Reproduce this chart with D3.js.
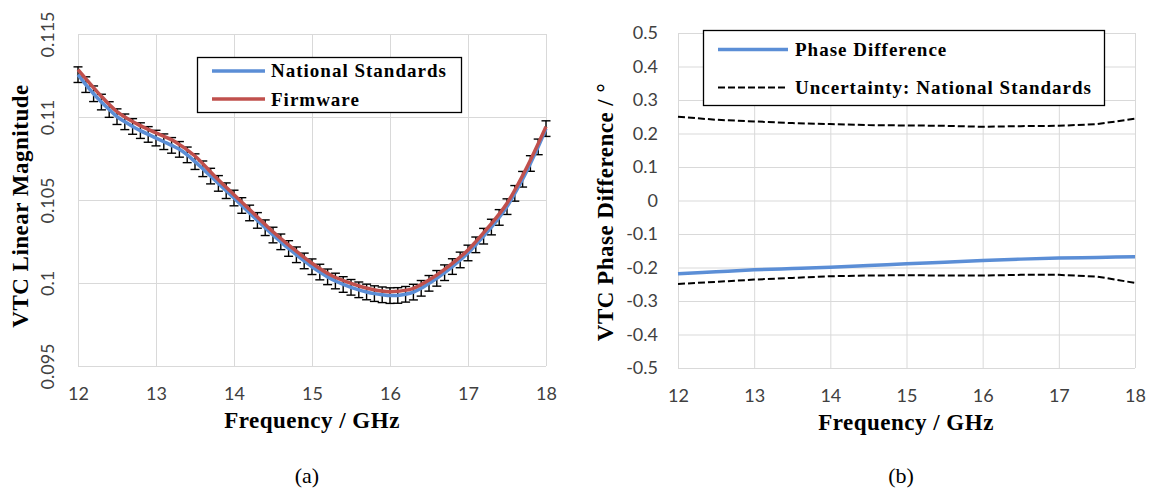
<!DOCTYPE html>
<html><head><meta charset="utf-8">
<script src="https://cdn.jsdelivr.net/npm/d3@7"></script>
<style>
body{margin:0;background:#fff}
svg{display:block}
.tick text{font-family:Lato,"Open Sans",sans-serif;font-size:18px;fill:#404040}
.ttl{font-family:"Liberation Serif","Times New Roman",serif;font-weight:bold;font-size:23px;letter-spacing:0.5px;fill:#000}
.leg{font-family:"Liberation Serif","Times New Roman",serif;font-weight:bold;font-size:19px;letter-spacing:1px;fill:#000}
.cap{font-family:"Liberation Serif","Times New Roman",serif;font-size:22px;fill:#000}
</style>
</head><body>
<svg id="c" width="1153" height="492"></svg>
<script>
// ---------- Panel (a): VTC linear magnitude ----------
const freqStd = d3.range(120, 181).map(d => d / 10); // 12.0 .. 18.0 GHz, 0.1 GHz steps
const nationalStandards = [
  0.11255,0.11195,0.11140,0.11090,0.11045,0.11002,0.10971,0.10943,0.10918,0.10895,
  0.10873,0.10851,0.10829,0.10805,0.10772,0.10731,0.10688,0.10644,0.10600,0.10556,
  0.10512,0.10467,0.10422,0.10377,0.10333,0.10289,0.10248,0.10208,0.10170,0.10133,
  0.10098,0.10066,0.10037,0.10012,0.09991,0.09974,0.09959,0.09946,0.09936,0.09929,
  0.09924,0.09925,0.09932,0.09945,0.09968,0.09998,0.10028,0.10062,0.10099,0.10139,
  0.10181,0.10230,0.10282,0.10337,0.10395,0.10460,0.10540,0.10625,0.10720,0.10820,
  0.10930
];
const nationalStandardsErr = 0.00047;
const freqFw = [12,12.25,12.5,12.75,13,13.25,13.5,13.75,14,14.25,14.5,14.75,15,15.25,15.5,15.75,16,16.25,16.5,16.75,17,17.25,17.5,17.75,18];
const firmware = [
  0.11285,0.11150,0.11032,0.10960,0.10904,0.10850,0.10765,0.10645,0.10532,0.10420,
  0.10309,0.10210,0.10119,0.10045,0.09998,0.09964,0.09948,0.09960,0.10018,0.10100,
  0.10199,0.10330,0.10480,0.10693,0.10942
];
const xTicks = [12,13,14,15,16,17,18];
const yTicksA = [0.095,0.1,0.105,0.11,0.115];

// ---------- Panel (b): VTC phase difference ----------
const freqB = [12,12.5,13,13.5,14,14.5,15,15.5,16,16.5,17,17.5,18];
const phaseDiff = [-0.219,-0.213,-0.207,-0.203,-0.199,-0.194,-0.189,-0.184,-0.179,-0.175,-0.172,-0.170,-0.168];
const uncUpper = [0.250,0.241,0.236,0.231,0.228,0.225,0.224,0.223,0.220,0.222,0.223,0.228,0.244];
const uncLower = [-0.249,-0.243,-0.236,-0.231,-0.226,-0.224,-0.223,-0.224,-0.224,-0.222,-0.222,-0.227,-0.246];
const yTicksB = [-0.5,-0.4,-0.3,-0.2,-0.1,0,0.1,0.2,0.3,0.4,0.5];

const BLUE = "#5B8ED6", RED = "#C0504D", GRID = "#d9d9d9";
const svg = d3.select("#c");

function grid(g, x, y, yt, yFmt, yPad) {
  const [x0, x1] = x.range(), [y0, y1] = y.range();
  const gx = g.append("g").attr("transform", `translate(0,${y0})`)
    .call(d3.axisBottom(x).tickValues(xTicks).tickSize(-(y0 - y1)).tickPadding(21).tickFormat(d3.format("d")));
  const gy = g.append("g").attr("transform", `translate(${x0},0)`)
    .call(d3.axisLeft(y).tickValues(yt).tickSize(-(x1 - x0)).tickPadding(yPad).tickFormat(yFmt));
  [gx, gy].forEach(a => {
    a.select(".domain").remove();
    a.selectAll("line").attr("stroke", GRID).attr("stroke-width", 1);
  });
  gx.selectAll("text").attr("dy", "0.71em");
  return gy;
}

// Panel (a)
const xA = d3.scaleLinear([12, 18], [78, 546]);
const yA = d3.scaleLinear([0.095, 0.115], [366, 34]);
const gA = svg.append("g");
const gyA = grid(gA, xA, yA, yTicksA, d => String(+d.toFixed(3)), 0);
gyA.selectAll("text")
  .attr("x", null).attr("dy", null)
  .attr("text-anchor", "middle").attr("dominant-baseline", "central")
  .attr("transform", "translate(-31,0) rotate(-90)");

const errG = gA.append("g").attr("stroke", "#000").attr("stroke-width", 1.4);
freqStd.forEach((f, i) => {
  const v = nationalStandards[i], cx = xA(f);
  const yt = yA(v + nationalStandardsErr), yb = yA(v - nationalStandardsErr);
  errG.append("line").attr("x1", cx).attr("x2", cx).attr("y1", yt).attr("y2", yb);
  errG.append("line").attr("x1", cx - 4.5).attr("x2", cx + 4.5).attr("y1", yt).attr("y2", yt);
  errG.append("line").attr("x1", cx - 4.5).attr("x2", cx + 4.5).attr("y1", yb).attr("y2", yb);
});
const lineA = d3.line().curve(d3.curveMonotoneX);
gA.append("path").attr("d", lineA(freqStd.map((f, i) => [xA(f), yA(nationalStandards[i])])))
  .attr("fill", "none").attr("stroke", BLUE).attr("stroke-width", 3.5);
gA.append("path").attr("d", lineA(freqFw.map((f, i) => [xA(f), yA(firmware[i])])))
  .attr("fill", "none").attr("stroke", RED).attr("stroke-width", 3.5);

// legend (a)
const lA = gA.append("g");
lA.append("rect").attr("x", 197.5).attr("y", 57.5).attr("width", 264).attr("height", 55)
  .attr("fill", "#fff").attr("stroke", "#000").attr("stroke-width", 1.3);
[["National Standards", BLUE, 71, 77], ["Firmware", RED, 99, 106]].forEach(([t, c, ly, ty]) => {
  lA.append("line").attr("x1", 212).attr("x2", 265).attr("y1", ly).attr("y2", ly).attr("stroke", c).attr("stroke-width", 3.5);
  lA.append("text").attr("class", "leg").attr("x", 271).attr("y", ty).text(t);
});

gA.append("text").attr("class", "ttl").attr("x", 312).attr("y", 428).attr("text-anchor", "middle").text("Frequency / GHz");
gA.append("text").attr("class", "ttl").attr("text-anchor", "middle").attr("dominant-baseline", "central")
  .attr("transform", "translate(20,206) rotate(-90)").text("VTC Linear Magnitude");
gA.append("text").attr("class", "cap").attr("x", 307).attr("y", 483).attr("text-anchor", "middle").text("(a)");

// Panel (b)
const xB = d3.scaleLinear([12, 18], [678, 1135]);
const yB = d3.scaleLinear([-0.5, 0.5], [368, 33]);
const gB = svg.append("g");
grid(gB, xB, yB, yTicksB, d => String(+d.toFixed(1)), 20);

const lineB = d3.line();
const dash = "7,3";
gB.append("path").attr("d", lineB(freqB.map((f, i) => [xB(f), yB(uncUpper[i])])))
  .attr("fill", "none").attr("stroke", "#000").attr("stroke-width", 2).attr("stroke-dasharray", dash);
gB.append("path").attr("d", lineB(freqB.map((f, i) => [xB(f), yB(uncLower[i])])))
  .attr("fill", "none").attr("stroke", "#000").attr("stroke-width", 2).attr("stroke-dasharray", dash);
gB.append("path").attr("d", d3.line().curve(d3.curveMonotoneX)(freqB.map((f, i) => [xB(f), yB(phaseDiff[i])])))
  .attr("fill", "none").attr("stroke", BLUE).attr("stroke-width", 3.5);

const lB = gB.append("g");
lB.append("rect").attr("x", 703.5).attr("y", 30.5).attr("width", 401).attr("height", 75)
  .attr("fill", "#fff").attr("stroke", "#000").attr("stroke-width", 1.3);
lB.append("line").attr("x1", 718).attr("x2", 788).attr("y1", 49.5).attr("y2", 49.5).attr("stroke", BLUE).attr("stroke-width", 3.5);
lB.append("line").attr("x1", 718).attr("x2", 788).attr("y1", 87.5).attr("y2", 87.5).attr("stroke", "#000").attr("stroke-width", 2).attr("stroke-dasharray", dash);
lB.append("text").attr("class", "leg").attr("x", 795).attr("y", 56).text("Phase Difference");
lB.append("text").attr("class", "leg").attr("x", 795).attr("y", 94).text("Uncertainty: National Standards");

gB.append("text").attr("class", "ttl").attr("x", 906).attr("y", 430).attr("text-anchor", "middle").text("Frequency / GHz");
gB.append("text").attr("class", "ttl").attr("text-anchor", "middle").attr("dominant-baseline", "central")
  .attr("transform", "translate(605,212) rotate(-90)").text("VTC Phase Difference / °");
gB.append("text").attr("class", "cap").attr("x", 901).attr("y", 483).attr("text-anchor", "middle").text("(b)");
</script>
</body></html>
